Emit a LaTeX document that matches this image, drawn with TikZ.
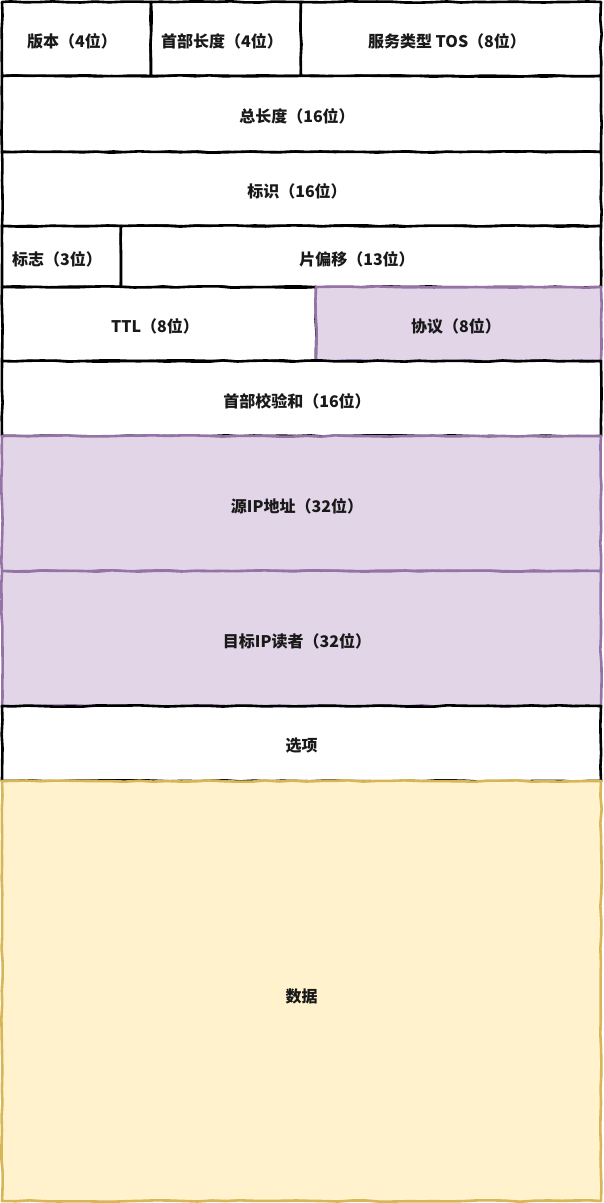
\documentclass[tikz,border=0pt]{standalone}
\usepackage{fontspec}
\setmainfont{Noto Sans CJK SC}
\usetikzlibrary{decorations.pathmorphing}
\definecolor{purfill}{HTML}{E1D5E7}
\definecolor{purline}{HTML}{9673A6}
\definecolor{yelfill}{HTML}{FFF2CC}
\definecolor{yelline}{HTML}{D6B656}
\tikzset{
  fld/.style={draw=black, line width=2.6pt, fill=white, line join=round,
    decorate, decoration={random steps, segment length=14pt, amplitude=0.7pt}},
  purfld/.style={fld, draw=purline, fill=purfill},
  yelfld/.style={fld, draw=yelline, fill=yelfill},
  lbl/.style={font=\fontsize{16}{19}\selectfont\bfseries, text=black!90}
}
\begin{document}
\begin{tikzpicture}[x=1pt,y=-1pt]
\useasboundingbox (0,0) rectangle (603,1203);
% row 1
\draw[fld] (2,2) rectangle (151,76);
\node[lbl] (ver) at (72,41) {版本（4位）};
\draw[fld] (151,2) rectangle (301,76);
\node[lbl] (ihl) at (222,41) {首部长度（4位）};
\draw[fld] (301,2) rectangle (601,76);
\node[lbl] (tos) at (447,41) {服务类型 TOS（8位）};
% row 2
\draw[fld] (2,76) rectangle (601,152);
\node[lbl] (len) at (297,116) {总长度（16位）};
% row 3
\draw[fld] (2,152) rectangle (601,226);
\node[lbl] (id) at (297,191) {标识（16位）};
% row 4
\draw[fld] (2,226) rectangle (121,287);
\node[lbl] (flag) at (57,259) {标志（3位）};
\draw[fld] (121,226) rectangle (601,287);
\node[lbl] (frag) at (357,259) {片偏移（13位）};
% row 5
\draw[fld] (2,287) rectangle (316,361);
\node[lbl] (ttl) at (155,326) {TTL（8位）};
\draw[purfld] (316,287) rectangle (601,361);
\node[lbl] (proto) at (456,326) {协议（8位）};
% row 6
\draw[fld] (2,361) rectangle (601,436);
\node[lbl] (chk) at (297,401) {首部校验和（16位）};
% row 7
\draw[purfld] (2,436) rectangle (601,571);
\node[lbl] (src) at (297,506) {源IP地址（32位）};
% row 8
\draw[purfld] (2,571) rectangle (601,706);
\node[lbl] (dst) at (297,641) {目标IP读者（32位）};
% row 9
\draw[fld] (2,706) rectangle (601,781);
\node[lbl] (opt) at (301.5,746) {选项};
% row 10
\draw[yelfld] (2,781) rectangle (601,1201);
\node[lbl] (data) at (301.5,996) {数据};
\end{tikzpicture}
\end{document}
